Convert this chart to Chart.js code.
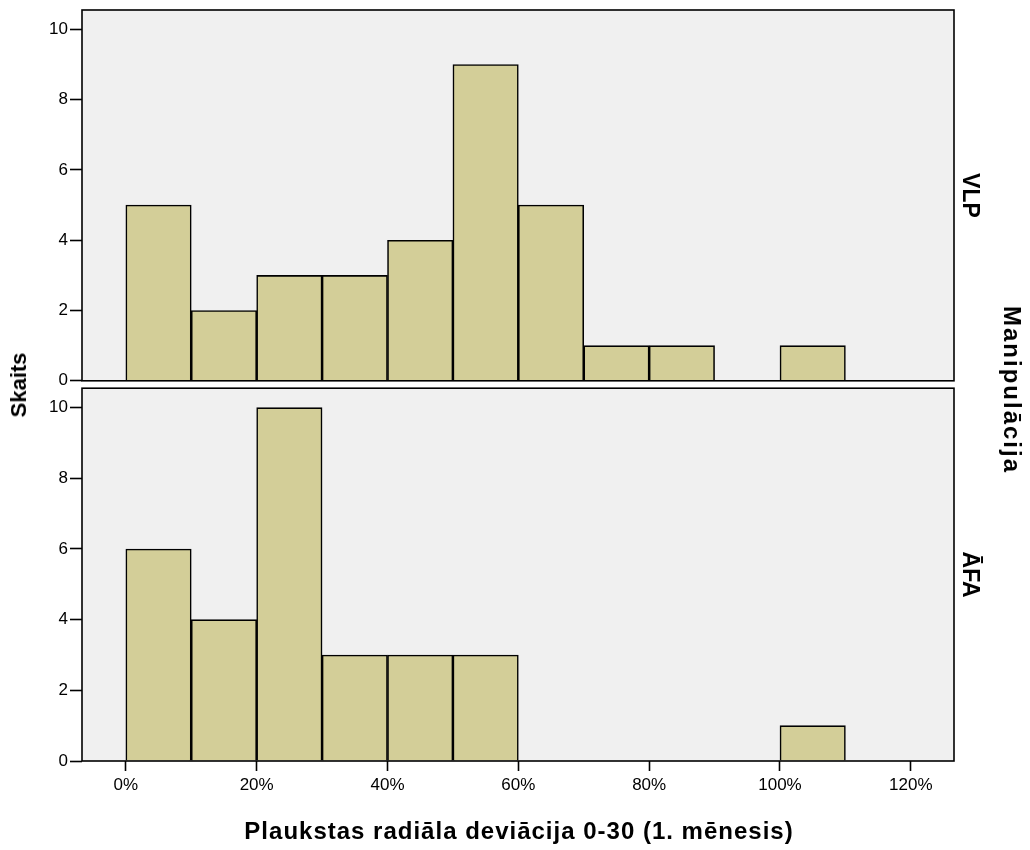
<!DOCTYPE html>
<html>
<head>
<meta charset="utf-8">
<script src="https://cdn.jsdelivr.net/npm/chart.js@4.4.1/dist/chart.umd.min.js"></script>
<style>
  html, body { margin: 0; padding: 0; background: #fff; }
  body { width: 1030px; height: 850px; position: relative; overflow: hidden; font-family: "Liberation Sans", Arial, sans-serif; }
  .cw { position: absolute; left: 0; width: 1030px; }
  .lab { position: absolute; font-weight: bold; color: #000; white-space: nowrap; line-height: 1; }
</style>
</head>
<body>
<div class="cw" id="wTop" style="top:-4px;height:397px"><canvas id="cTop"></canvas></div>
<div class="cw" id="wBot" style="top:376px;height:474px"><canvas id="cBot"></canvas></div>
<div class="lab" id="ylab" style="left:19px;top:385px;font-size:22px;transform:translate(-50%,-50%) rotate(-90deg)">Skaits</div>
<div class="lab" id="rlab" style="left:1012px;top:390px;font-size:24px;letter-spacing:2px;transform:translate(-50%,-50%) rotate(90deg)">Manipulācija</div>
<div class="lab" id="xlab" style="left:519px;top:831px;font-size:24px;letter-spacing:1px;transform:translate(-50%,-50%)"></div>
<script>
// ---- data ----
const binCenters = [5, 15, 25, 35, 45, 55, 65, 75, 85, 95, 105, 115];
const vlpCounts  = [5, 2, 3, 3, 4, 9, 5, 1, 1, 0, 1, 0];
const afaCounts  = [6, 4, 10, 3, 3, 3, 0, 0, 0, 0, 1, 0];
const xTickValues = [0, 20, 40, 60, 80, 100, 120];
const yTickValues = [0, 2, 4, 6, 8, 10];
const facetNames = ['VLP', 'ĀFA'];
const xTitle = 'Plaukstas radiāla deviācija 0-30 (1. mēnesis)';

document.getElementById('xlab').textContent = xTitle;

const FONT = '"Liberation Sans", Arial, sans-serif';
const BAR_FILL = '#d3ce98';
const PANEL_BG = '#f0f0f0';

const panelPlugin = {
  id: 'panel',
  beforeDatasetsDraw(chart) {
    const a = chart.chartArea, ctx = chart.ctx;
    ctx.save();
    ctx.fillStyle = PANEL_BG;
    ctx.fillRect(a.left, a.top, a.right - a.left, a.bottom - a.top);
    ctx.restore();
  },
  afterDatasetsDraw(chart, args, opts) {
    const a = chart.chartArea, ctx = chart.ctx;
    ctx.save();
    ctx.strokeStyle = '#000';
    ctx.lineWidth = 1.6;
    ctx.strokeRect(a.left, a.top, a.right - a.left, a.bottom - a.top);
    // facet label
    ctx.fillStyle = '#000';
    ctx.font = 'bold 23px ' + FONT;
    ctx.textAlign = 'center';
    ctx.textBaseline = 'middle';
    ctx.translate(a.right + 15, (a.top + a.bottom) / 2);
    ctx.rotate(Math.PI / 2);
    ctx.fillText(opts.label, 0, 0);
    ctx.restore();
  }
};

function makeChart(id, counts, label, showX, padTop, padBottom) {
  return new Chart(document.getElementById(id), {
    type: 'bar',
    data: {
      datasets: [{
        data: binCenters.map((c, i) => ({ x: c, y: counts[i] })),
        backgroundColor: BAR_FILL,
        borderColor: '#000',
        borderWidth: 1.6,
        borderSkipped: 'bottom',
        barPercentage: 1.0,
        categoryPercentage: 1.0
      }]
    },
    options: {
      responsive: true,
      maintainAspectRatio: false,
      animation: false,
      events: [],
      layout: { padding: { left: 0, right: 76, top: padTop, bottom: padBottom } },
      plugins: { legend: { display: false }, tooltip: { enabled: false }, panel: { label: label } },
      scales: {
        x: {
          type: 'linear',
          min: -6.7,
          max: 126.6,
          offset: false,
          display: showX,
          afterBuildTicks: s => { s.ticks = xTickValues.map(v => ({ value: v })); },
          afterFit: s => { if (showX) s.height = 89; },
          grid: { offset: false, drawOnChartArea: false, tickLength: 10, tickColor: '#000', tickWidth: 1.6 },
          border: { display: false },
          ticks: { color: '#000', font: { family: FONT, size: 17 }, padding: 4, maxRotation: 0, callback: v => v + '%' }
        },
        y: {
          min: 0,
          max: 10.55,
          afterBuildTicks: s => { s.ticks = yTickValues.map(v => ({ value: v })); },
          afterFit: s => { s.width = 82; },
          grid: { drawOnChartArea: false, tickLength: 12, tickColor: '#000', tickWidth: 1.6 },
          border: { display: false },
          ticks: { color: '#000', font: { family: FONT, size: 17 }, padding: 2 }
        }
      }
    },
    plugins: [panelPlugin]
  });
}

makeChart('cTop', vlpCounts, facetNames[0], false, 14, 12);
makeChart('cBot', afaCounts, facetNames[1], true, 12, 0);
</script>
</body>
</html>
